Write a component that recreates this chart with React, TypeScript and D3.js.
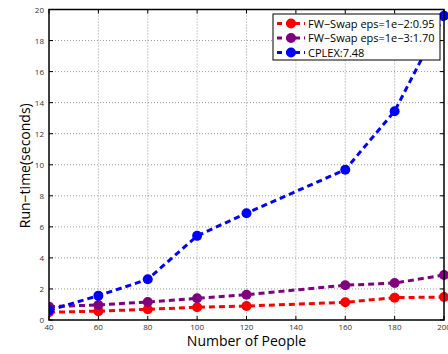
import React from "react";
import * as d3 from "d3";

const people = [40, 60, 80, 100, 120, 160, 180, 200];
const fw2 = [0.5, 0.57, 0.69, 0.82, 0.9, 1.14, 1.44, 1.48];
const fw3 = [0.86, 0.97, 1.16, 1.4, 1.63, 2.24, 2.38, 2.9];
const cplex = [0.62, 1.57, 2.62, 5.42, 6.88, 9.68, 13.45, 19.6];
const xTicks = [40, 60, 80, 100, 120, 140, 160, 180, 200];
const yTicks = [0, 2, 4, 6, 8, 10, 12, 14, 16, 18, 20];
const seriesNames = ["FW\u2212Swap eps=1e\u22122:0.95", "FW\u2212Swap eps=1e\u22123:1.70", "CPLEX:7.48"];
const seriesColors = ["#ff0000", "#800080", "#0000ff"];

export default function App() {
  const W = 448, H = 354;
  const L = 49, R = 444, T = 9.5, B = 320;
  const x = d3.scaleLinear().domain([40, 200]).range([L, R]);
  const y = d3.scaleLinear().domain([0, 20]).range([B, T]);
  const line = d3.line<number>().x((_, i) => x(people[i])).y((d) => y(d));
  const series = [fw2, fw3, cplex];
  const tickColor = "#333";
  return (
    <svg width={W} height={H} style={{ position: "absolute", left: 0, top: 0, background: "#fff" }}
      fontFamily="'Open Sans', 'Noto Sans', sans-serif">
      <defs>
        <clipPath id="plotclip">
          <rect x={L} y={T - 6} width={W - L} height={B - T + 12} />
        </clipPath>
      </defs>
      <rect x={0} y={0} width={W} height={H} fill="#fff" />
      {xTicks.slice(1, -1).map((t) => (
        <line key={"gx" + t} x1={x(t)} x2={x(t)} y1={T} y2={B} stroke="#999" strokeWidth={1} strokeDasharray="1,2" />
      ))}
      {yTicks.slice(1, -1).map((t) => (
        <line key={"gy" + t} x1={L} x2={R} y1={y(t)} y2={y(t)} stroke="#999" strokeWidth={1} strokeDasharray="1,2" />
      ))}
      {xTicks.map((t) => (
        <g key={"tx" + t}>
          <line x1={x(t)} x2={x(t)} y1={B} y2={B - 4} stroke="#000" />
          <line x1={x(t)} x2={x(t)} y1={T} y2={T + 4} stroke="#000" />
          <text x={x(t)} y={B + 10} fontSize={8} textAnchor="middle" fill={tickColor}>{t}</text>
        </g>
      ))}
      {yTicks.map((t) => (
        <g key={"ty" + t}>
          <line x1={L} x2={L + 4} y1={y(t)} y2={y(t)} stroke="#000" />
          <line x1={R} x2={R - 4} y1={y(t)} y2={y(t)} stroke="#000" />
          <text x={L - 5} y={y(t) + 3} fontSize={8} textAnchor="end" fill={tickColor}>{t}</text>
        </g>
      ))}
      <g clipPath="url(#plotclip)">
        {series.map((s, k) => (
          <g key={"s" + k}>
            <path d={line(s) || ""} fill="none" stroke={seriesColors[k]} strokeWidth={3} strokeDasharray="6,4" />
            {s.map((v, i) => (
              <circle key={i} cx={x(people[i])} cy={y(v)} r={5} fill={seriesColors[k]} />
            ))}
          </g>
        ))}
      </g>
      <rect x={L} y={T} width={R - L} height={B - T} fill="none" stroke="#000" strokeWidth={1.5} />
      <g>
        <rect x={273} y={14} width={167} height={46} fill="#fff" stroke="#000" strokeWidth={1} />
        {seriesNames.map((n, k) => (
          <g key={"l" + k} transform={`translate(0, ${23.5 + k * 14.5})`}>
            <line x1={277} x2={305} y1={0} y2={0} stroke={seriesColors[k]} strokeWidth={3} strokeDasharray="5,4" />
            <circle cx={291} cy={0} r={5} fill={seriesColors[k]} />
            <text x={308} y={4} fontSize={11} fill="#000">{n}</text>
          </g>
        ))}
      </g>
      <text x={(L + R) / 2} y={346} fontSize={14} textAnchor="middle" fill="#000">Number of People</text>
      <text transform={`translate(30, ${(T + B) / 2 + 1}) rotate(-90)`} fontSize={14} textAnchor="middle" fill="#000">Run{"\u2212"}time(seconds)</text>
    </svg>
  );
}
